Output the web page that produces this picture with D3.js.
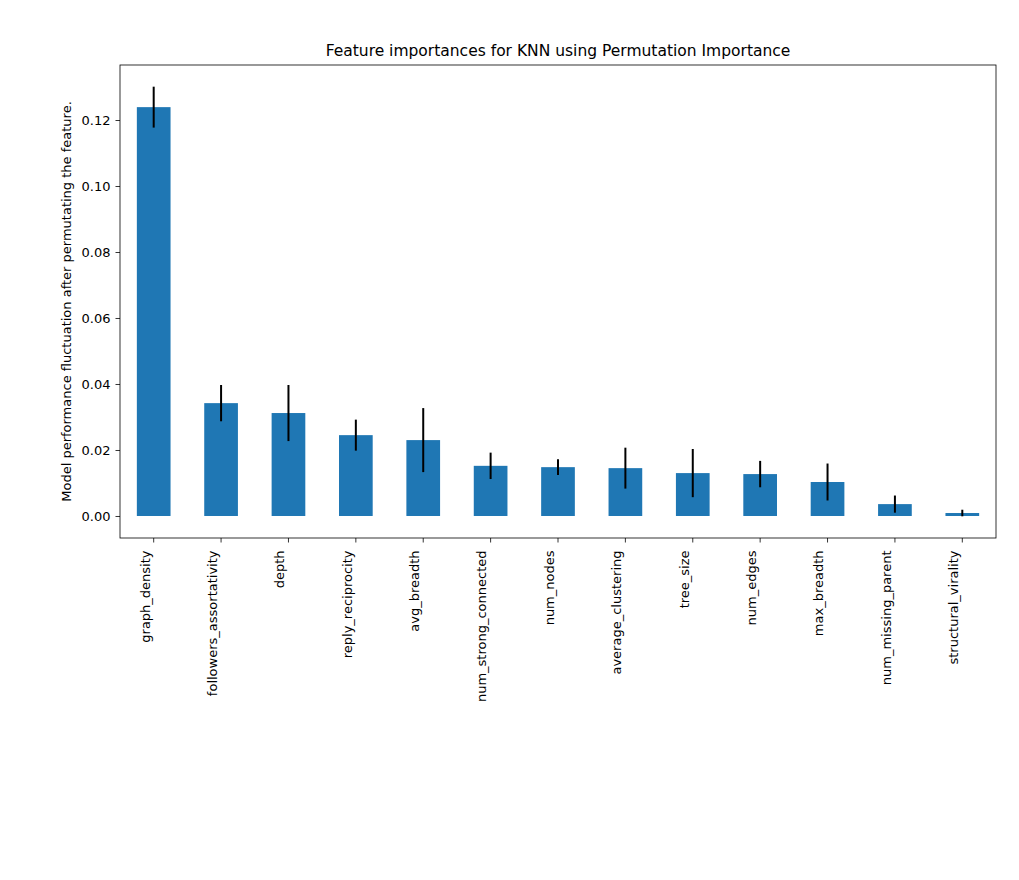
<!DOCTYPE html>
<html>
<head>
<meta charset="utf-8">
<script src="https://cdn.jsdelivr.net/npm/d3@7"></script>
<style>
  body { margin: 0; background: #fff; }
  text { font-family: "DejaVu Sans", sans-serif; }
</style>
</head>
<body>
<svg id="chart" width="1019" height="880"></svg>
<script>
const features = ['graph_density', 'followers_assortativity', 'depth', 'reply_reciprocity',
  'avg_breadth', 'num_strong_connected', 'num_nodes', 'average_clustering', 'tree_size',
  'num_edges', 'max_breadth', 'num_missing_parent', 'structural_virality']
const importances = [0.1239, 0.0342, 0.0312, 0.0245, 0.0230, 0.0152, 0.0148, 0.0145,
  0.0130, 0.0127, 0.0103, 0.0036, 0.0009]
const stds = [0.0062, 0.0055, 0.0085, 0.0047, 0.0097, 0.0040, 0.0024, 0.0062,
  0.0073, 0.0040, 0.0056, 0.0026, 0.0010]
const yTicks = [0, 0.02, 0.04, 0.06, 0.08, 0.10, 0.12]

const margin = { left: 120, top: 65, right: 23, bottom: 342 }
const width = 1019 - margin.left - margin.right
const height = 880 - margin.top - margin.bottom

const svg = d3.select('#chart')
const g = svg.append('g').attr('transform', `translate(${margin.left},${margin.top})`)

const x = d3.scaleBand().domain(features).range([0, width]).paddingInner(0.5).paddingOuter(0.25)
const ymin = -0.00667, ymax = 0.13667
const y = d3.scaleLinear().domain([ymin, ymax]).range([height, 0])

g.selectAll('.bar')
  .data(features)
  .enter()
  .append('rect')
    .attr('class', 'bar')
    .attr('x', d => x(d))
    .attr('width', x.bandwidth())
    .attr('y', (d, i) => y(importances[i]))
    .attr('height', (d, i) => y(0) - y(importances[i]))
    .attr('fill', '#1f77b4')

g.selectAll('.err')
  .data(features)
  .enter()
  .append('line')
    .attr('class', 'err')
    .attr('x1', d => x(d) + x.bandwidth() / 2)
    .attr('x2', d => x(d) + x.bandwidth() / 2)
    .attr('y1', (d, i) => y(importances[i] - stds[i]))
    .attr('y2', (d, i) => y(importances[i] + stds[i]))
    .attr('stroke', '#000')
    .attr('stroke-width', 2)

const yAxis = g.append('g')
  .call(d3.axisLeft(y).tickValues(yTicks).tickFormat(d3.format('.2f')).tickSize(4.5).tickPadding(5))
const xAxis = g.append('g')
  .attr('transform', `translate(0,${height})`)
  .call(d3.axisBottom(x).tickSize(4.5).tickPadding(5))
xAxis.selectAll('text')
  .attr('transform', 'rotate(-90)')
  .attr('text-anchor', 'end')
  .attr('dx', '-0.5em')
  .attr('dy', '-0.32em')
  .attr('x', -6)
  .attr('y', 0)
for (const ax of [xAxis, yAxis]) {
  ax.selectAll('.domain').remove()
  ax.selectAll('text').attr('font-size', 13).attr('font-family', '"DejaVu Sans", sans-serif').attr('fill', '#000')
  ax.selectAll('line').attr('stroke', '#000').attr('stroke-width', 0.8)
}

g.append('rect')
  .attr('width', width).attr('height', height)
  .attr('fill', 'none').attr('stroke', '#000').attr('stroke-width', 0.8)

svg.append('text')
  .attr('x', margin.left + width / 2).attr('y', 56)
  .attr('text-anchor', 'middle').attr('font-size', 15.5)
  .text('Feature importances for KNN using Permutation Importance')

svg.append('text')
  .attr('transform', `translate(71,${margin.top + height / 2}) rotate(-90)`)
  .attr('text-anchor', 'middle').attr('font-size', 13)
  .text('Model performance fluctuation after permutating the feature.')
</script>
</body>
</html>
